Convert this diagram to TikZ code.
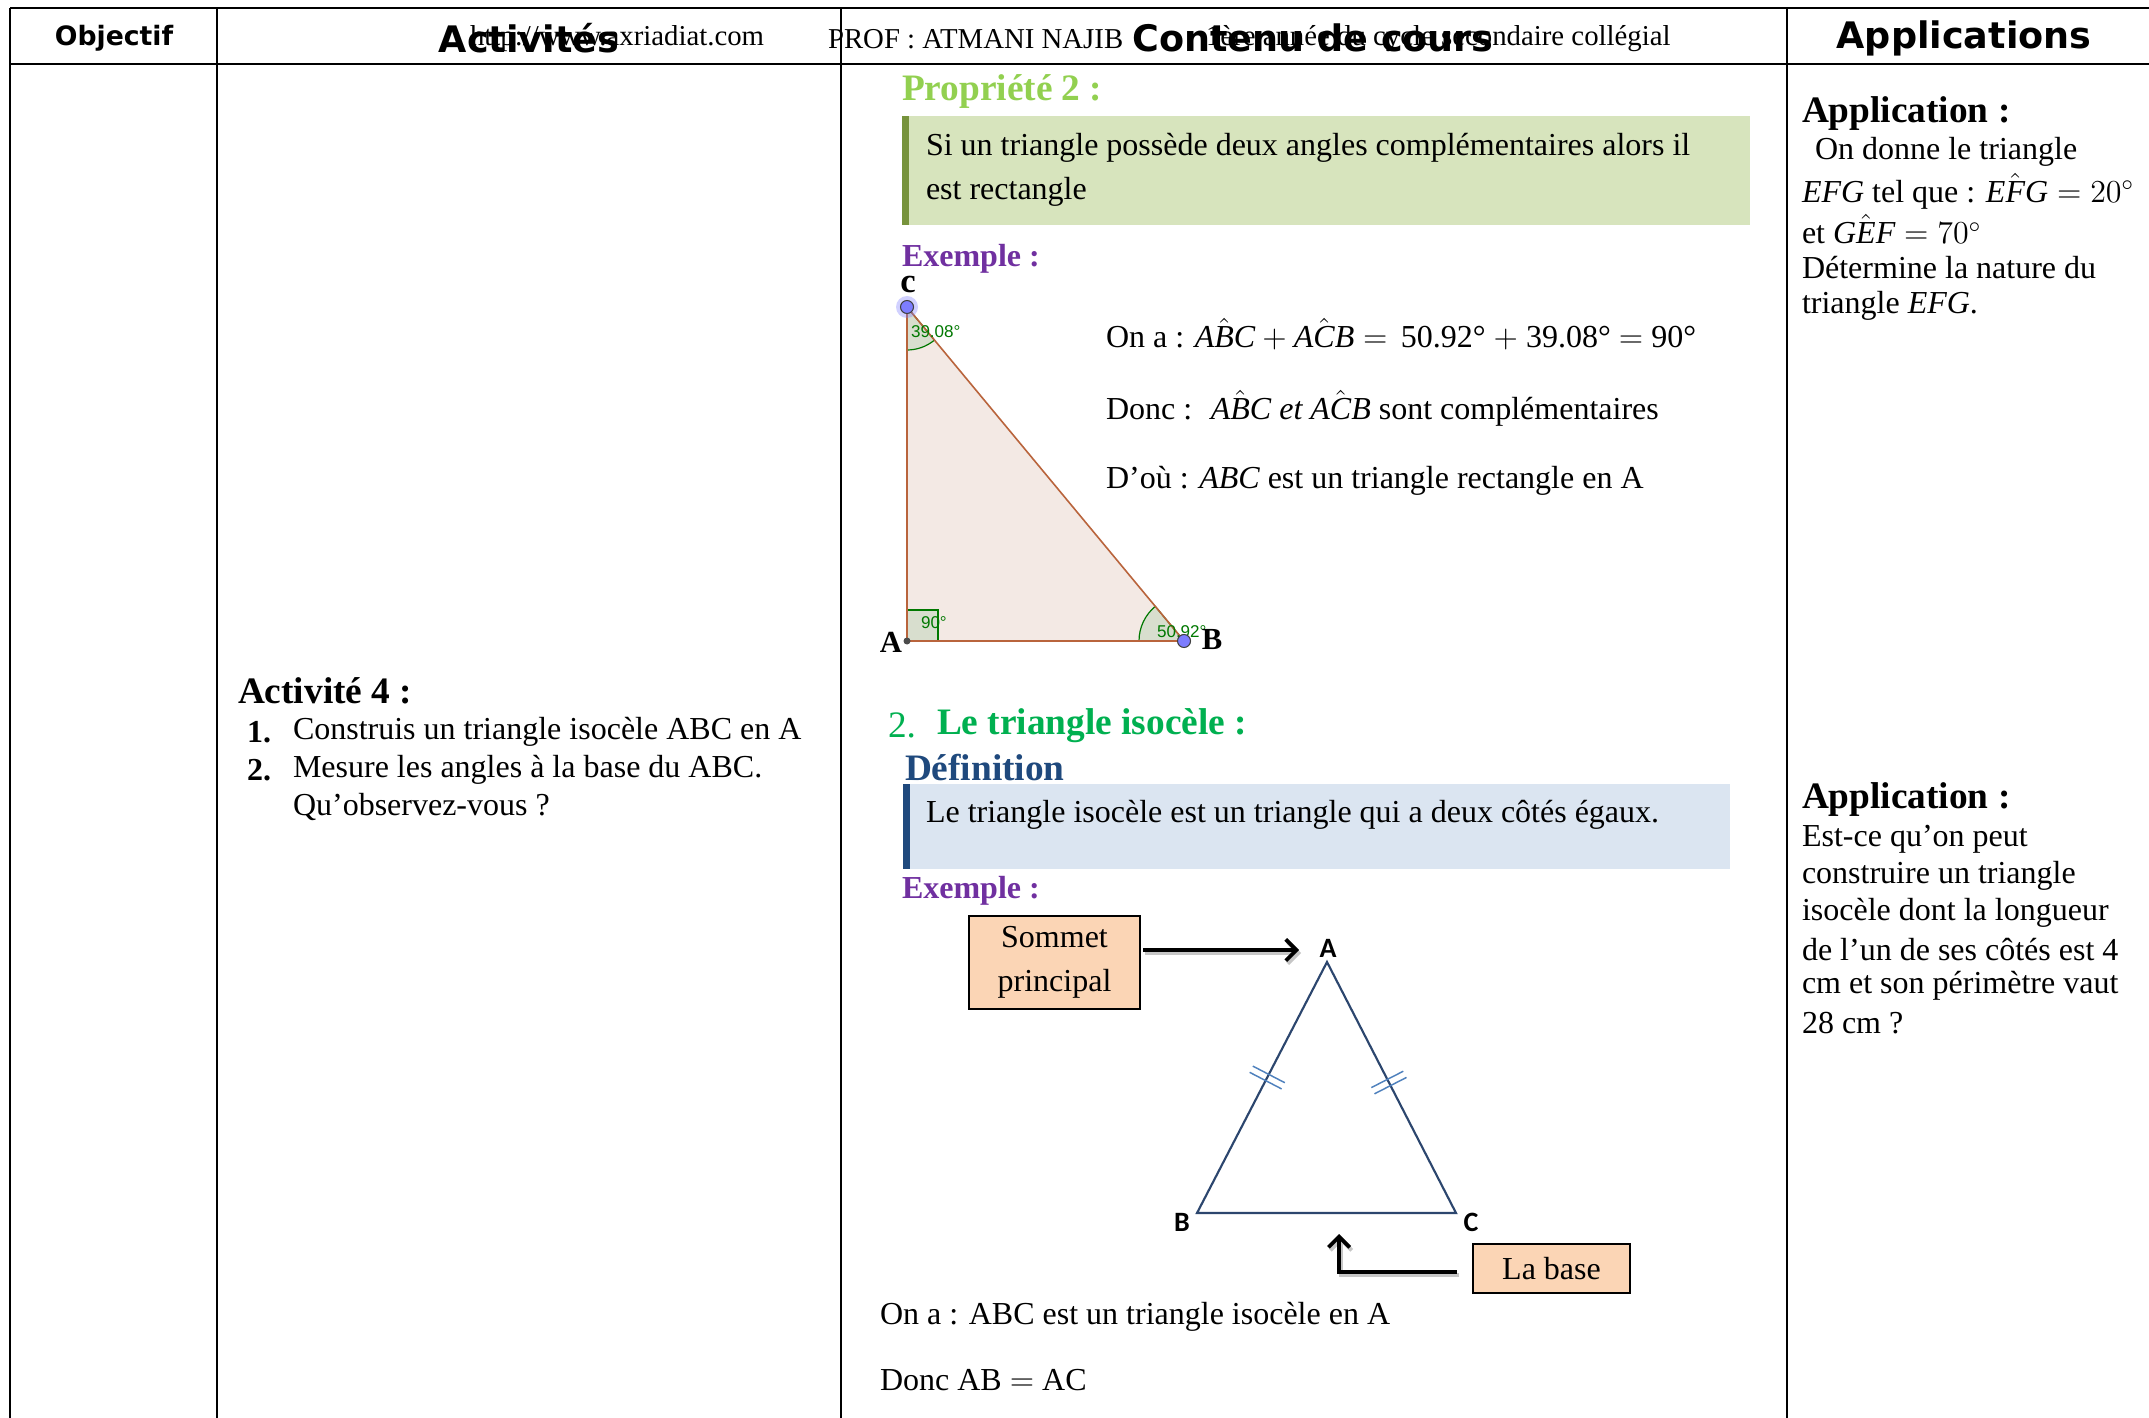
\documentclass[tikz,border=0pt]{standalone}
\usepackage{fontspec}
\setmainfont{Liberation Serif}
\newfontfamily\hdrfont{DejaVu Sans}
\newfontfamily\calfont{Carlito}
\newfontfamily\ggbfont{Liberation Sans}
\usetikzlibrary{arrows.meta,calc}
\newcommand\mv[1]{\mbox{\itshape #1}}
\definecolor{propgreen}{HTML}{92D050}
\definecolor{propbox}{HTML}{D7E4BD}
\definecolor{propbar}{HTML}{77933C}
\definecolor{exviolet}{HTML}{7030A0}
\definecolor{isogreen}{HTML}{00B050}
\definecolor{defblue}{HTML}{1F497D}
\definecolor{defbox}{HTML}{DBE5F1}
\definecolor{peachfill}{HTML}{FBD5B5}
\definecolor{trifill}{RGB}{243,233,228}
\definecolor{triedge}{RGB}{185,100,60}
\definecolor{ggbgreen}{RGB}{0,120,0}
\definecolor{angfillc}{RGB}{216,222,206}
\definecolor{ptblue}{RGB}{125,125,255}
\definecolor{isoedge}{RGB}{44,70,110}
\definecolor{tickblue}{HTML}{4F81BD}
\begin{document}
\begin{tikzpicture}[x=0.375pt,y=-0.375pt,
  every node/.style={inner sep=0pt,outer sep=0pt,font=\fontsize{12}{14}\selectfont},
  tbl/.style={line width=1pt,black},
  hdr/.style={font=\hdrfont\bfseries\fontsize{13.7}{16}\selectfont},
  txt/.style={anchor=west,yshift=-1.2pt},
  ttl/.style={anchor=west,yshift=-1.2pt,font=\bfseries\fontsize{14}{16}\selectfont},
  exm/.style={anchor=west,yshift=-1.2pt,font=\bfseries\fontsize{12}{14}\selectfont,text=exviolet},
  peachbox/.style={draw=black,line width=0.6pt,fill=peachfill,align=center},
  ggblabel/.style={anchor=west,font=\ggbfont\fontsize{6.4}{7}\selectfont,text=ggbgreen},
  angsec/.style={fill=angfillc,draw=ggbgreen,line width=0.45pt},
  vlabel/.style={font=\bfseries\fontsize{11.5}{13}\selectfont},
  isolabel/.style={font=\calfont\bfseries\fontsize{10.5}{12}\selectfont},
  bigarrow/.style={line width=1.4pt,-{Straight Barb[length=4pt,width=8pt]}},
  shadowarrow/.style={line width=1.4pt,gray!45,-{Straight Barb[length=4pt,width=8pt]}}
]
\useasboundingbox (0,0) rectangle (2149,1418);
\fill[white] (0,0) rectangle (2149,1418);

% ---------- table ----------
\draw[tbl] (10,8) -- (2160,8);
\draw[tbl] (10,64) -- (2160,64);
\draw[tbl] (10,8) -- (10,1425);
\draw[tbl] (217,8) -- (217,1425);
\draw[tbl] (841,8) -- (841,1425);
\draw[tbl] (1787,8) -- (1787,1425);

% ---------- header ----------
\node[anchor=west,font=\fontsize{10.8}{12}\selectfont] (url) at (470,39) {http://www.axriadiat.com};
\node[anchor=west,font=\fontsize{10.8}{12}\selectfont] (prof) at (828,39) {PROF : ATMANI NAJIB};
\node[anchor=west,font=\fontsize{10.8}{12}\selectfont] (niveau) at (1206,39) {1ère année du cycle secondaire collégial};
\node[font=\hdrfont\bfseries\fontsize{10}{12}\selectfont] (hobj) at (114,38) {Objectif};
\node[hdr] (hact) at (529,38) {Activités};
\node[hdr] (hcont) at (1313,38) {Contenu de cours};
\node[hdr] (happ) at (1964,38) {Applications};

% ---------- Activités column ----------
\node[ttl] (act4) at (238,688) {Activité 4 :};
\node[txt,font=\bfseries\fontsize{12}{14}\selectfont] (n1) at (247,729) {1.};
\node[txt] (l1) at (293,729) {Construis un triangle isocèle ABC en A};
\node[txt,font=\bfseries\fontsize{12}{14}\selectfont] (n2) at (247,767) {2.};
\node[txt] (l2) at (293,767) {Mesure les angles à la base du ABC.};
\node[txt] (l3) at (293,804) {Qu’observez-vous ?};

% ---------- Propriété 2 ----------
\node[ttl,text=propgreen] (prop2) at (902,88) {Propriété 2 :};
\fill[propbox] (902,116) rectangle (1750,225);
\fill[propbar] (902,116) rectangle (909,225);
\node[txt] (p2a) at (926,145) {Si un triangle possède deux angles complémentaires alors il};
\node[txt] (p2b) at (926,189) {est rectangle};
\node[exm] (ex1) at (902,256) {Exemple :};

% right triangle (GeoGebra)
\coordinate (rC) at (907,307);
\coordinate (rA) at (907,641);
\coordinate (rB) at (1184,641);
\fill[trifill] (rA) -- (rB) -- (rC) -- cycle;
\filldraw[angsec] (rC) -- ++(50.3:43) arc[start angle=50.3,end angle=90,radius=43] -- cycle;
\filldraw[angsec] (rB) -- ++(180:45) arc[start angle=180,end angle=230.3,radius=45] -- cycle;
\filldraw[angsec] (907,610) rectangle (938,641);
\draw[triedge,line width=0.6pt] (rA) -- (rB) -- (rC) -- cycle;
\node[ggblabel] (angC) at (911,332) {39.08°};
\node[ggblabel] (angA) at (921,623) {90°};
\node[ggblabel] (angB) at (1157,632) {50.92°};
\fill[ptblue,opacity=0.35] (rC) circle[radius=11];
\filldraw[fill=ptblue,draw=black!75,line width=0.4pt] (rC) circle[radius=6.5];
\filldraw[fill=ptblue,draw=black!75,line width=0.4pt] (rB) circle[radius=6.5];
\fill[black!70] (rA) circle[radius=3.5];
\node[vlabel,font=\bfseries\fontsize{13}{14}\selectfont] (labC) at (908,284) {c};
\node[vlabel] (labA) at (891,642) {A};
\node[vlabel] (labB) at (1212,640) {B};

\node[txt] (ona1) at (1106,331) {On a : $\mv{A}\hat{\mv{B}}\mv{C} + \mv{A}\hat{\mv{C}}\mv{B} =$ \,50.92° $+$ 39.08° $=$ 90°};
\node[txt] (donc1) at (1106,405) {Donc : \ $\mv{A}\hat{\mv{B}}\mv{C}$ \mv{et} $\mv{A}\hat{\mv{C}}\mv{B}$ sont complémentaires};
\node[txt] (dou1) at (1106,478) {D’où : \mv{ABC} est un triangle rectangle en A};

% ---------- Le triangle isocèle ----------
\node[anchor=west,yshift=-1.2pt,font=\fontsize{14}{16}\selectfont,text=isogreen] (num2) at (888,722) {2.};
\node[ttl,text=isogreen] (isotitle) at (937,722) {Le triangle isocèle :};
\node[ttl,text=defblue] (defin) at (905,764) {Définition};
\fill[defbox] (903,784) rectangle (1730,869);
\fill[defblue] (903,784) rectangle (910,869);
\node[txt] (deftext) at (926,812) {Le triangle isocèle est un triangle qui a deux côtés égaux.};
\node[exm] (ex2) at (902,888) {Exemple :};

\node[peachbox,font=\fontsize{12}{16.5}\selectfont,minimum width=64.1pt,minimum height=34.9pt] (sommet) at (1054.5,962.5) {Sommet\\principal};
\coordinate (sommetend) at (1299,950);
\draw[shadowarrow] ([shift={(5,3)}]sommet.east |- sommetend) -- ([shift={(2,3)}]sommetend);
\draw[bigarrow] (sommet.east |- sommetend) [shorten <=1.2pt] -- (sommetend);

\coordinate (iA) at (1327,962);
\coordinate (iB) at (1197,1213);
\coordinate (iC) at (1456,1213);
\draw[isoedge,line width=0.8pt,line join=miter] (iA) -- (iB) -- (iC) -- cycle;
\draw[tickblue,line width=0.55pt] (1252.8,1066.1) -- (1284.8,1082.7);
\draw[tickblue,line width=0.55pt] (1249.6,1072.3) -- (1281.6,1088.9);
\draw[tickblue,line width=0.55pt] (1374.5,1093.8) -- (1406.5,1077.4);
\draw[tickblue,line width=0.55pt] (1371.3,1087.6) -- (1403.3,1071.2);
\node[isolabel] (ilA) at (1328,948) {A};
\node[isolabel] (ilB) at (1182,1222) {B};
\node[isolabel] (ilC) at (1471,1222) {C};

\node[peachbox,minimum width=58.9pt,minimum height=18.4pt] (labase) at (1551.5,1268.5) {La base};
\coordinate (baseend) at (1339,1234);
\coordinate (basestart) at (1457,1272);
\draw[shadowarrow] ([shift={(2,3)}]basestart) -| ([shift={(2,3)}]baseend);
\draw[bigarrow] (labase.west |- basestart) [shorten <=6pt] -| (baseend);

\node[txt] (ona2) at (880,1314) {On a : ABC est un triangle isocèle en A};
\node[txt] (donc2) at (880,1377) {Donc AB $=$ AC};

% ---------- Applications ----------
\node[ttl] (app1) at (1802,110) {Application :};
\node[txt] (a1l1) at (1815,149) {On donne le triangle};
\node[txt] (a1l2) at (1802,188) {\mv{EFG} tel que : $\mv{E}\hat{\mv{F}}\mv{G} = 20^\circ$};
\node[txt] (a1l3) at (1802,226) {et $\mv{G}\hat{\mv{E}}\mv{F} = 70^\circ$};
\node[txt] (a1l4) at (1802,264) {Détermine la nature du};
\node[txt] (a1l5) at (1802,303) {triangle \mv{EFG}.};

\node[ttl] (app2) at (1802,796) {Application :};
\node[txt] (a2l1) at (1802,836) {Est-ce qu’on peut};
\node[txt] (a2l2) at (1802,873) {construire un triangle};
\node[txt] (a2l3) at (1802,910) {isocèle dont la longueur};
\node[txt] (a2l4) at (1802,946) {de l’un de ses côtés est 4};
\node[txt] (a2l5) at (1802,983) {cm et son périmètre vaut};
\node[txt] (a2l6) at (1802,1020) {28 cm ?};
\end{tikzpicture}
\end{document}
